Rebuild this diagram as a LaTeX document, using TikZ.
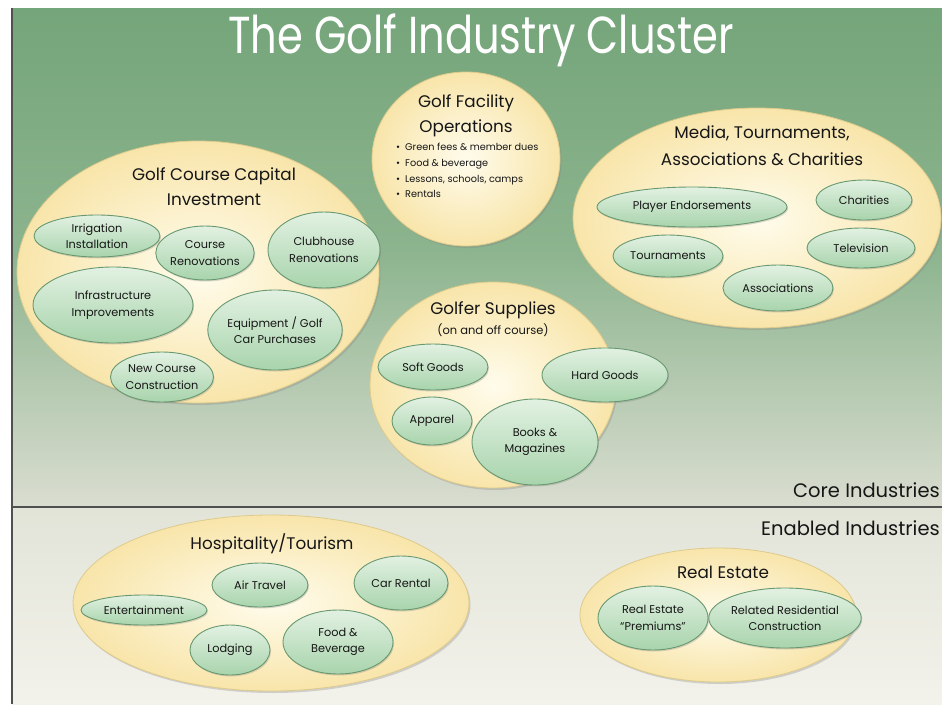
\documentclass[tikz,border=0pt]{standalone}
\usepackage{fontspec}
\setmainfont{Poppins}
\newfontfamily\titlefont[FakeStretch=0.8]{Poppins}
\usetikzlibrary{shapes.geometric,shadows}
\definecolor{bgA}{RGB}{117,165,122}
\definecolor{bgB}{RGB}{140,180,142}
\definecolor{bgC}{RGB}{218,221,208}
\definecolor{bgD}{RGB}{226,228,216}
\definecolor{bgE}{RGB}{243,242,235}
\definecolor{creamIn}{RGB}{255,252,236}
\definecolor{creamOut}{RGB}{248,229,170}
\definecolor{creamLine}{RGB}{222,202,140}
\definecolor{mintTop}{RGB}{226,241,226}
\definecolor{mintBot}{RGB}{168,212,172}
\definecolor{mintLine}{RGB}{104,152,112}
\definecolor{txt}{RGB}{22,22,22}
\definecolor{divider}{RGB}{80,80,80}
\tikzset{
  bigell/.style={ellipse, draw=creamLine, line width=0.8pt, inner sep=0pt,
    inner color=creamIn, outer color=creamOut,
    drop shadow={opacity=0.3, shadow xshift=1.5pt, shadow yshift=-2pt}},
  smell/.style={ellipse, draw=mintLine, line width=0.9pt, inner sep=0pt,
    top color=mintTop, bottom color=mintBot, align=center, text=txt,
    font=\fontsize{11.3}{16.5}\selectfont,
    drop shadow={opacity=0.3, shadow xshift=1pt, shadow yshift=-1.5pt}},
  grouptitle/.style={align=center, text=txt, font=\fontsize{16.8}{25}\selectfont, inner sep=0pt},
  sidelabel/.style={anchor=east, text=txt, font=\fontsize{19.5}{22}\selectfont, inner sep=0pt}
}
\begin{document}
\begin{tikzpicture}[x=1pt,y=-1pt]
\useasboundingbox (0,0) rectangle (942,704);
\fill[white] (0,0) rectangle (942,704);
\shade[top color=bgA, bottom color=bgB] (12,8) rectangle (942,250);
\shade[top color=bgB, bottom color=bgC] (12,250) rectangle (942,507);
\shade[top color=bgD, bottom color=bgE] (12,507) rectangle (942,704);
\draw[divider, line width=2pt] (12,507) -- (942,507);
\draw[divider, line width=2pt] (12,8) -- (12,704);

\node[text=white, inner sep=0pt, font=\titlefont\fontsize{52}{60}\selectfont] (title) at (481,40) {The Golf Industry Cluster};

% Golf Course Capital Investment
\node[bigell, minimum width=362pt, minimum height=262pt] (gcci) at (198,272) {};
\node[grouptitle] (gccit) at (214,187) {Golf Course Capital\\Investment};
\node[smell, minimum width=126pt, minimum height=42pt] (irr) at (97,236) {Irrigation\\Installation};
\node[smell, minimum width=92pt, minimum height=54pt] (crs) at (205,253) {Course\\Renovations};
\node[smell, minimum width=112pt, minimum height=76pt] (club) at (324,250) {Clubhouse\\Renovations};
\node[smell, minimum width=160pt, minimum height=76pt] (infra) at (113,305) {Infrastructure\\Improvements};
\node[smell, minimum width=124pt, minimum height=80pt] (equip) at (275,330) {Equipment / Golf\\Car Purchases};
\node[smell, minimum width=100pt, minimum height=50pt] (newc) at (162,377) {New Course\\Construction};

% Golf Facility Operations
\node[bigell, minimum width=188pt, minimum height=174pt] (gfo) at (466,159) {};
\node[grouptitle] (gfot) at (466,116) {Golf Facility\\Operations};
\node[anchor=north west, align=left, text=txt, inner sep=0pt, font=\fontsize{9.7}{15.7}\selectfont] (gfol) at (396,143)
  {\textbullet\hspace{5pt}Green fees \& member dues\\
   \textbullet\hspace{5pt}Food \& beverage\\
   \textbullet\hspace{5pt}Lessons, schools, camps\\
   \textbullet\hspace{5pt}Rentals};

% Media
\node[bigell, minimum width=368pt, minimum height=220pt] (media) at (757,218) {};
\node[grouptitle, font=\fontsize{16.8}{27}\selectfont] (mediat) at (762,146) {Media, Tournaments,\\Associations \& Charities};
\node[smell, minimum width=190pt, minimum height=40pt] (player) at (692,207) {Player Endorsements};
\node[smell, minimum width=96pt, minimum height=40pt] (char) at (864,200) {Charities};
\node[smell, minimum width=110pt, minimum height=42pt] (tour) at (668,256) {Tournaments};
\node[smell, minimum width=108pt, minimum height=40pt] (tv) at (861,248) {Television};
\node[smell, minimum width=110pt, minimum height=46pt] (assoc) at (778,288) {Associations};

% Golfer Supplies
\node[bigell, minimum width=246pt, minimum height=206pt] (gs) at (493,385) {};
\node[grouptitle] (gst) at (493,310) {Golfer Supplies};
\node[text=txt, inner sep=0pt, font=\fontsize{11.5}{14}\selectfont] (gss) at (493,330) {(on and off course)};
\node[smell, minimum width=110pt, minimum height=46pt] (soft) at (433,367) {Soft Goods};
\node[smell, minimum width=126pt, minimum height=54pt] (hard) at (605,375) {Hard Goods};
\node[smell, minimum width=80pt, minimum height=48pt] (app) at (432,421) {Apparel};
\node[smell, minimum width=126pt, minimum height=86pt] (books) at (535,442) {Books \&\\Magazines};

\node[sidelabel] (core) at (940,490) {Core Industries};
\node[sidelabel] (enab) at (940,528) {Enabled Industries};

% Hospitality / Tourism
\node[bigell, minimum width=396pt, minimum height=176pt] (hosp) at (271,603) {};
\node[grouptitle] (hospt) at (272,544) {Hospitality/Tourism};
\node[smell, minimum width=126pt, minimum height=30pt] (ent) at (144,610) {Entertainment};
\node[smell, minimum width=96pt, minimum height=44pt] (air) at (260,585) {Air Travel};
\node[smell, minimum width=94pt, minimum height=54pt] (car) at (401,583) {Car Rental};
\node[smell, minimum width=80pt, minimum height=50pt] (lodg) at (230,650) {Lodging};
\node[smell, minimum width=110pt, minimum height=64pt] (food) at (338,642) {Food \&\\Beverage};

% Real Estate
\node[bigell, minimum width=276pt, minimum height=134pt] (re) at (718,615) {};
\node[grouptitle] (ret) at (723,572) {Real Estate};
\node[smell, minimum width=110pt, minimum height=64pt] (prem) at (653,618) {Real Estate\\``Premiums''};
\node[smell, minimum width=128pt, minimum height=60pt] (resid) at (785,618) {Related Residential\\Construction};
\end{tikzpicture}
\end{document}
